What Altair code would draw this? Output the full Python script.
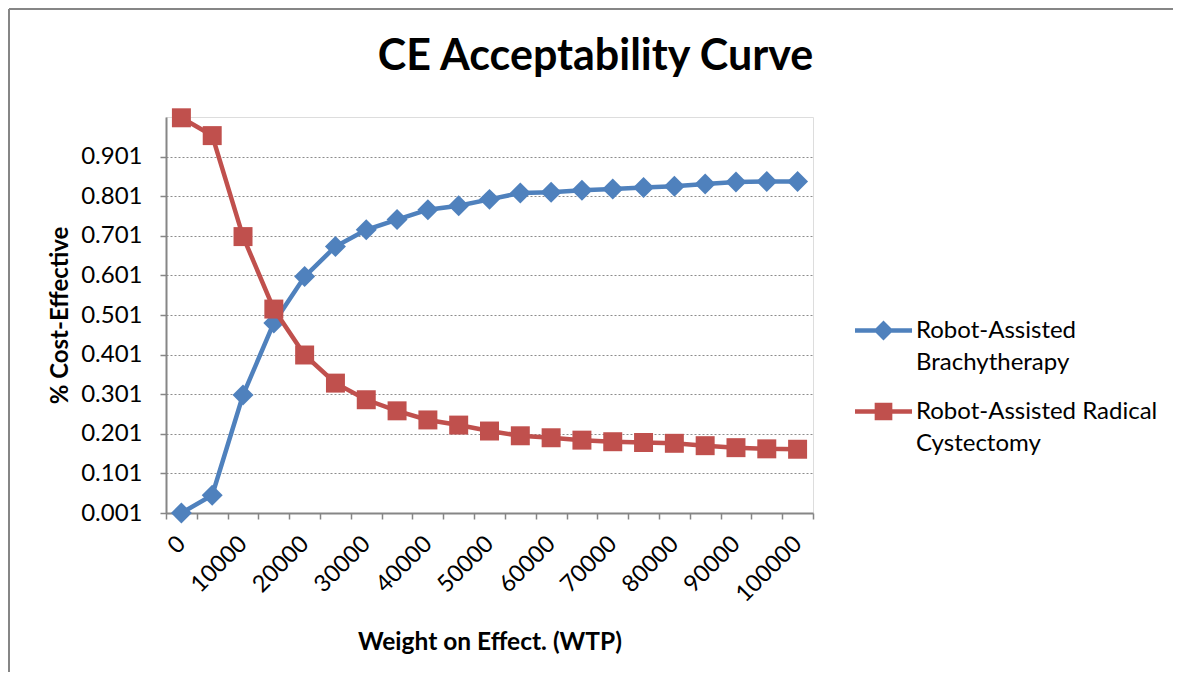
import altair as alt
import pandas as pd

# ---- data ----
wtp = [0, 5000, 10000, 15000, 20000, 25000, 30000, 35000, 40000, 45000, 50000,
       55000, 60000, 65000, 70000, 75000, 80000, 85000, 90000, 95000, 100000]
brachy = [0.001, 0.046, 0.299, 0.481, 0.598, 0.674, 0.716, 0.742, 0.767, 0.777, 0.793,
          0.809, 0.811, 0.816, 0.819, 0.823, 0.826, 0.832, 0.837, 0.838, 0.838]
cyst = [0.999, 0.954, 0.699, 0.516, 0.400, 0.329, 0.287, 0.259, 0.236, 0.223, 0.208,
        0.196, 0.191, 0.185, 0.181, 0.179, 0.177, 0.171, 0.166, 0.163, 0.162]
series_names = ["Robot-Assisted Brachytherapy", "Robot-Assisted Radical Cystectomy"]
series_colors = ["#4F81BD", "#C0504D"]
y_tick_values = [0.001, 0.101, 0.201, 0.301, 0.401, 0.501, 0.601, 0.701, 0.801, 0.901]

FONT = "Lato"
GRAY = "#868686"

rows = []
for w, b, c in zip(wtp, brachy, cyst):
    rows.append({"wtp": w, "series": series_names[0], "value": b})
    rows.append({"wtp": w, "series": series_names[1], "value": c})
df = pd.DataFrame(rows)

half = (wtp[1] - wtp[0]) / 2
x_bounds = [w - half for w in wtp] + [wtp[-1] + half]
W, H = 647, 396
px_per_unit = W / (x_bounds[-1] - x_bounds[0])

x_enc = alt.X(
    "wtp:Q",
    scale=alt.Scale(domain=[x_bounds[0], x_bounds[-1]], nice=False, zero=False),
    axis=alt.Axis(
        values=x_bounds,
        labelExpr=f"(datum.value + {half}) % 10000 == 0 ? format(datum.value + {half}, 'd') : ''",
        labelOffset=half * px_per_unit,
        labelAngle=-45, labelAlign="right", labelBaseline="middle",
        labelPadding=21, labelOverlap=False, labelFlush=False,
        labelFont=FONT, labelFontSize=23.5, labelColor="black",
        tickSize=6, tickColor=GRAY, tickWidth=1.5,
        domainColor=GRAY, domainWidth=2,
        grid=False,
        title="Weight on Effect. (WTP)", titleFont=FONT, titleFontSize=24.5,
        titleFontWeight="bold", titleColor="black",
        titleX=W / 2, titleY=129, titleBaseline="middle", titleAlign="center",
    ),
)
y_enc = alt.Y(
    "value:Q",
    scale=alt.Scale(domain=[0.001, 1.001], nice=False, zero=False),
    axis=alt.Axis(
        values=y_tick_values, format=".3f",
        labelFont=FONT, labelFontSize=24, labelColor="black", labelPadding=18,
        tickSize=6, tickColor=GRAY, tickWidth=1.5,
        domainColor=GRAY, domainWidth=2,
        grid=True, gridColor="#8c8c8c", gridDash=[2, 2], gridWidth=1,
        title="% Cost-Effective", titleFont=FONT, titleFontSize=24,
        titleFontWeight="bold", titleColor="black",
        titleX=-106, titleY=H / 2, titleAngle=-90, titleBaseline="middle", titleAlign="center",
    ),
)

layers = []
marker_shapes = ["diamond", "square"]
marker_sizes = [440, 360]
for name, col, shp, sz in zip(series_names, series_colors, marker_shapes, marker_sizes):
    base = alt.Chart(df).transform_filter(alt.datum.series == name)
    layers.append(base.mark_line(strokeWidth=4.5, color=col).encode(x=x_enc, y=y_enc))
    layers.append(base.mark_point(filled=True, opacity=1, shape=shp, size=sz, color=col)
                  .encode(x=x_enc, y=y_enc))

# legend symbols: line segment with marker (unit-square SVG paths)
legend_paths = [
    "M-1,-0.08L1,-0.08L1,0.08L-1,0.08Z M0,-0.35L0.35,0L0,0.35L-0.35,0Z",
    "M-1,-0.08L1,-0.08L1,0.08L-1,0.08Z M-0.31,-0.31L0.31,-0.31L0.31,0.31L-0.31,0.31Z",
]
legend = alt.Legend(
    title=None, orient="none", legendX=689, legendY=185, padding=0,
    symbolSize=3249, symbolOpacity=1, symbolStrokeWidth=0,
    labelFont=FONT, labelFontSize=24, labelColor="black", labelOffset=4, labelLimit=400,
    labelBaseline="middle", rowPadding=8,
    labelExpr="[substring(datum.label, 0, lastindexof(datum.label, ' ')), "
              "substring(datum.label, lastindexof(datum.label, ' ') + 1)]",
)
layers.append(alt.Chart(df).transform_filter("datum.value < -1").mark_point(filled=True).encode(
    x=x_enc, y=y_enc,
    color=alt.Color("series:N", scale=alt.Scale(domain=series_names, range=series_colors), legend=legend),
    shape=alt.Shape("series:N", scale=alt.Scale(domain=series_names, range=legend_paths), legend=legend),
))

# outer chart frame (left and top edges)
frame_df = pd.DataFrame({"k": [0]})
layers.append(alt.Chart(frame_df).mark_rule(color=GRAY, strokeWidth=2).encode(
    x=alt.value(-157), y=alt.value(-108), y2=alt.value(H + 170)))
layers.append(alt.Chart(frame_df).mark_rule(color=GRAY, strokeWidth=2).encode(
    x=alt.value(-157), x2=alt.value(W + 400), y=alt.value(-108)))

chart = alt.layer(*layers).properties(
    width=W, height=H,
    title=alt.TitleParams("CE Acceptability Curve", font=FONT, fontSize=43, fontWeight="bold",
                          color="black", anchor="middle", frame="group", dx=106,
                          baseline="alphabetic", offset=-105),
    autosize=alt.AutoSizeParams(type="none"),
    padding={"left": 158, "top": 109, "right": 360, "bottom": 159},
).configure_view(stroke=GRAY, strokeWidth=2).configure(
    style={"guide-label": {"lineHeight": 32}}
)

chart.save("out.html", embed_options={"renderer": "svg", "actions": False})
